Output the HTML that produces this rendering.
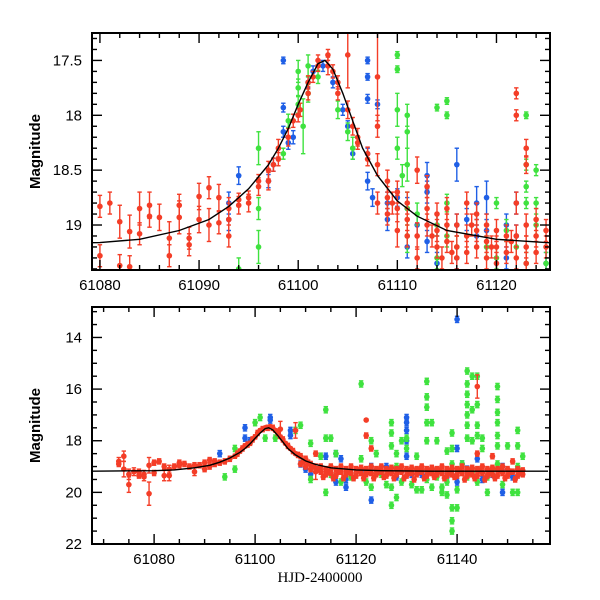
<!DOCTYPE html>
<html><head><meta charset="utf-8"><style>
html,body{margin:0;padding:0;background:#fff;}
svg{display:block;font-family:"Liberation Sans",sans-serif;}
</style></head><body>
<svg id="chart" width="600" height="600" xmlns="http://www.w3.org/2000/svg">
<defs>
<clipPath id="clipTop"><rect x="92" y="33" width="458" height="237"/></clipPath>
<clipPath id="clipBot"><rect x="92" y="307" width="458" height="237"/></clipPath>
</defs>
<g id="top"></g>
<g id="bot"></g>
</svg>
<script>
// ---- Top panel data: [date, mag, err]
const topRed = [[61080,18.83,0.1],[61080,19.28,0.1],[61081,18.8,0.1],[61082,18.97,0.15],[61082,19.37,0.1],[61083,19.06,0.15],[61083,19.38,0.1],[61084,18.85,0.15],[61084,19.08,0.1],[61085,18.82,0.12],[61085,18.92,0.1],[61086,18.93,0.12],[61087,19.12,0.15],[61087,19.28,0.1],[61088,18.93,0.15],[61088,18.82,0.1],[61089,19.12,0.1],[61089,19.18,0.1],[61090,18.95,0.12],[61090,18.74,0.12],[61091,18.66,0.1],[61091,19.0,0.15],[61092,18.75,0.12],[61092,18.98,0.1],[61093,18.95,0.15],[61093,19.1,0.1],[61093,18.85,0.1],[61094,18.82,0.08],[61094,18.77,0.06],[61095,18.8,0.08],[61095,18.75,0.06],[61096,18.65,0.08],[61096,18.6,0.06],[61097,18.5,0.08],[61097,18.6,0.08],[61097.5,18.45,0.06],[61098,18.3,0.08],[61098,18.4,0.06],[61099,18.2,0.08],[61099.5,18.05,0.06],[61100,18.0,0.06],[61100.2,17.95,0.06],[61101,17.7,0.06],[61101,17.8,0.06],[61101.5,17.65,0.05],[61102,17.55,0.05],[61102,17.5,0.05],[61103,17.45,0.05],[61103,17.55,0.08],[61103.5,17.6,0.06],[61104,17.7,0.06],[61104,17.8,0.06],[61105,17.95,0.08],[61105,17.45,0.3],[61105.5,18.1,0.08],[61106,18.2,0.08],[61106,18.25,0.06],[61107,18.35,0.06],[61107,18.4,0.06],[61108,17.65,0.4],[61108,18.1,0.1],[61108,18.45,0.1],[61108,18.8,0.1],[61109,18.6,0.1],[61109,18.75,0.1],[61109,18.9,0.1],[61109.5,18.8,0.1],[61110,18.7,0.1],[61110,18.85,0.12],[61110,19.05,0.15],[61111,18.8,0.1],[61111,18.95,0.1],[61111,19.1,0.1],[61112,18.5,0.12],[61112,19.1,0.12],[61112,19.3,0.1],[61113,18.65,0.1],[61113,18.85,0.1],[61113,19.0,0.1],[61113.5,19.1,0.1],[61114,18.9,0.1],[61114,19.05,0.1],[61114,19.2,0.1],[61114.5,19.3,0.1],[61115,18.85,0.1],[61115,19.0,0.1],[61115,19.15,0.1],[61115.5,19.25,0.1],[61116,19.0,0.1],[61116,19.2,0.1],[61116,19.3,0.1],[61117,18.8,0.1],[61117,19.1,0.1],[61117,19.25,0.1],[61117.5,19.0,0.1],[61118,18.9,0.1],[61118,19.05,0.1],[61118,19.2,0.1],[61119,19.0,0.1],[61119,19.15,0.1],[61119,19.3,0.1],[61119.5,19.2,0.1],[61120,19.05,0.1],[61120,19.2,0.1],[61120,19.35,0.1],[61121,19.1,0.1],[61121,19.25,0.1],[61121.5,19.15,0.1],[61122,17.8,0.05],[61122,18.0,0.05],[61122,18.8,0.1],[61122,19.1,0.1],[61122,19.3,0.1],[61123,18.3,0.08],[61123,18.45,0.08],[61123,19.0,0.1],[61123,19.2,0.1],[61123,19.35,0.1],[61124,18.95,0.1],[61124,19.1,0.1],[61124,19.25,0.1],[61125,19.05,0.1],[61125,19.2,0.1]];
const topBlue = [[61093,18.8,0.1],[61093,18.95,0.1],[61094,18.55,0.08],[61097,18.6,0.06],[61097.5,18.45,0.06],[61098.5,17.5,0.03],[61098.5,17.93,0.04],[61098.5,18.15,0.05],[61099,18.25,0.06],[61099.5,18.2,0.06],[61101,17.7,0.05],[61101.5,17.6,0.05],[61102.5,17.55,0.05],[61103.5,17.7,0.05],[61104.5,17.95,0.05],[61105,18.1,0.05],[61105.5,18.35,0.05],[61107,17.5,0.03],[61107,17.65,0.03],[61107,17.85,0.04],[61107,18.35,0.05],[61107,18.6,0.08],[61107.5,18.75,0.08],[61108,17.9,0.04],[61109,18.8,0.1],[61109,18.95,0.1],[61110,18.75,0.08],[61111,19.2,0.1],[61111,18.85,0.1],[61112,19.0,0.1],[61113,18.55,0.12],[61113,18.7,0.1],[61113,19.15,0.1],[61114,19.0,0.1],[61114,19.35,0.1],[61116,18.45,0.15],[61116,19.0,0.1],[61116,19.3,0.1],[61117,18.95,0.1],[61118,18.8,0.15],[61118,19.1,0.1],[61119,18.75,0.15],[61119,19.05,0.1],[61121,19.0,0.1],[61121,19.3,0.1],[61122,18.8,0.1],[61122,19.1,0.1],[61125,19.35,0.1]];
const topGreen = [[61094,19.4,0.1],[61096,18.3,0.15],[61096,18.85,0.1],[61096,19.2,0.15],[61098.5,18.35,0.05],[61099,18.05,0.06],[61100,17.6,0.1],[61100,17.75,0.08],[61100,17.9,0.08],[61100.5,18.1,0.25],[61101,17.55,0.1],[61101,17.8,0.08],[61102,17.65,0.06],[61104,17.95,0.08],[61105,18.15,0.08],[61105.5,18.3,0.1],[61110,17.45,0.03],[61110,17.58,0.03],[61110,17.95,0.15],[61110,18.3,0.1],[61110.5,18.55,0.1],[61111,18.0,0.1],[61111,18.15,0.15],[61111,18.45,0.15],[61111,18.85,0.15],[61111,19.1,0.15],[61112,18.9,0.1],[61114,19.0,0.1],[61114,19.3,0.1],[61114,17.93,0.03],[61115,17.87,0.03],[61115,18.0,0.03],[61115,18.8,0.08],[61115,19.1,0.1],[61116,19.2,0.1],[61119,19.2,0.1],[61120,18.8,0.05],[61120,19.3,0.1],[61121,19.05,0.1],[61122,19.2,0.1],[61123,18.0,0.03],[61123,18.45,0.05],[61123,18.65,0.05],[61123,18.8,0.05],[61123,19.35,0.1],[61124,18.5,0.05],[61124,18.8,0.05],[61124,19.0,0.1],[61125,19.35,0.1]];
const fitDates = [61067,61073,61080,61084,61088,61091,61093,61095,61097,61098,61099,61100,61101,61102,61102.7,61103.5,61104.5,61105.5,61106.5,61108,61110,61112,61115,61120,61125,61135,61158];
const fitMags = [19.18,19.17,19.16,19.13,19.05,18.95,18.83,18.67,18.45,18.3,18.12,17.9,17.7,17.53,17.5,17.58,17.8,18.05,18.3,18.55,18.78,18.92,19.05,19.13,19.16,19.18,19.18];
const topXTicks = ["61080","61090","61100","61110","61120"];
const topYTicks = ["17.5","18","18.5","19"];
// ---- Bottom panel data
const botRed = [[61073,18.8,0.15],[61073,18.9,0.1],[61074,18.6,0.2],[61074,19.1,0.3],[61075,19.3,0.2],[61075,19.7,0.3],[61076,19.2,0.15],[61077,19.2,0.1],[61077,19.35,0.1],[61078,19.3,0.15],[61078,19.4,0.15],[61079,18.95,0.3],[61079,20.05,0.45],[61080,19.25,0.1],[61080,18.85,0.1],[61081,18.8,0.1],[61082,19.0,0.1],[61082,19.35,0.2],[61083,19.1,0.15],[61083,19.35,0.2],[61084,19.0,0.1],[61085,18.85,0.1],[61085,18.95,0.1],[61086,18.9,0.1],[61087,19.0,0.1],[61088,19.2,0.15],[61088,18.95,0.1],[61089,18.95,0.1],[61090,19.1,0.1],[61090,18.85,0.1],[61091,18.75,0.1],[61091,19.0,0.1],[61092,18.8,0.1],[61092,18.9,0.1],[61093,18.85,0.1],[61094,18.8,0.1],[61095,18.7,0.1],[61096,18.6,0.08],[61097,18.4,0.08],[61098,18.2,0.08],[61099,18.1,0.08],[61100,17.85,0.08],[61101,17.6,0.06],[61102,17.5,0.06],[61103,17.45,0.06],[61104,17.6,0.06],[61105,17.55,0.3],[61105,17.85,0.06],[61106,18.1,0.06],[61107,18.3,0.06],[61108,17.6,0.3],[61108,18.5,0.06],[61109,18.6,0.1],[61109,18.9,0.1],[61110,18.7,0.1],[61110,19.0,0.1],[61111,18.9,0.1],[61111,19.1,0.1],[61112,18.5,0.1],[61112,19.2,0.3],[61113,19.0,0.1],[61113,19.2,0.1],[61114,19.1,0.1],[61114,19.3,0.1],[61115,19.0,0.1],[61115,19.25,0.1],[61116,19.1,0.1],[61116,19.35,0.1],[61117,19.0,0.1],[61117,19.2,0.1],[61118,19.1,0.1],[61118,19.3,0.1],[61119,19.0,0.1],[61119,19.25,0.1],[61120,19.1,0.1],[61120,19.35,0.1],[61121,19.05,0.1],[61121,19.25,0.1],[61122,17.2,0.05],[61122,17.8,0.1],[61122,19.1,0.1],[61122,19.3,0.1],[61123,18.3,0.1],[61123,19.0,0.1],[61123,19.25,0.1],[61124,19.1,0.1],[61124,19.3,0.1],[61125,19.0,0.1],[61125,19.2,0.1],[61126,19.1,0.1],[61126,19.35,0.1],[61127,19.05,0.1],[61127,19.25,0.1],[61128,19.1,0.1],[61128,19.3,0.1],[61129,19.0,0.1],[61129,19.2,0.1],[61130,19.1,0.1],[61130,19.35,0.1],[61131,19.05,0.1],[61131,19.25,0.1],[61132,19.1,0.1],[61132,19.3,0.1],[61133,19.0,0.1],[61133,19.2,0.1],[61134,19.1,0.1],[61134,19.35,0.1],[61135,19.05,0.1],[61135,19.25,0.1],[61136,19.1,0.1],[61136,19.3,0.1],[61137,19.0,0.1],[61137,19.25,0.1],[61138,19.1,0.1],[61138,19.35,0.1],[61139,19.05,0.1],[61139,19.3,0.1],[61140,19.1,0.1],[61140,19.35,0.1],[61141,19.0,0.1],[61141,19.25,0.1],[61142,19.1,0.1],[61142,19.35,0.1],[61143,19.05,0.1],[61143,19.3,0.1],[61144,15.9,0.45],[61144,18.5,0.1],[61144,19.1,0.1],[61144,19.35,0.1],[61145,19.0,0.1],[61145,19.25,0.1],[61146,19.1,0.1],[61146,19.35,0.1],[61147,18.6,0.1],[61147,19.05,0.1],[61147,19.3,0.1],[61148,19.1,0.1],[61148,19.35,0.1],[61149,19.0,0.1],[61149,19.25,0.1],[61150,19.1,0.1],[61150,19.35,0.1],[61151,18.8,0.1],[61151,19.2,0.1],[61152,19.1,0.1],[61152,19.35,0.1],[61153,19.15,0.1],[61153,19.3,0.1]];
const botRedExtra = [[61096.5,18.5],[61097.5,18.3],[61098.5,18.15],[61099.5,17.95],[61100.5,17.7],[61101.5,17.55],[61102.5,17.5],[61103.5,17.5],[61104.5,17.7],[61105.5,17.95],[61106.5,18.2],[61107.5,18.4],[61108.5,18.55],[61109.5,18.8],[61110.5,18.85],[61111.5,19.0],[61112.5,19.1],[61113.5,19.4],[61114.5,19.2],[61115.5,19.45],[61116.5,19.2],[61117.5,19.45],[61118.5,19.2],[61119.5,19.45],[61120.5,19.15],[61121.5,19.45],[61122.5,19.2],[61123.5,19.45],[61124.5,19.15],[61125.5,19.4],[61126.5,19.2],[61127.5,19.45],[61128.5,19.15],[61129.5,19.45],[61130.5,19.2],[61131.5,19.5],[61132.5,19.15],[61133.5,19.45],[61134.5,19.2],[61135.5,19.4],[61136.5,19.15],[61137.5,19.45],[61138.5,19.2],[61139.5,19.4],[61140.5,19.15],[61141.5,19.5],[61142.5,19.2],[61143.5,19.45],[61144.5,19.15],[61145.5,19.5],[61146.5,19.2],[61147.5,19.45],[61148.5,19.15],[61149.5,19.45],[61150.5,19.2],[61151.5,19.5],[61152.5,19.2]];
const botBlue = [[61093,18.5],[61098,17.5],[61098,17.9],[61099,18.0],[61103,17.1],[61103,17.2],[61107,17.6],[61107,17.8],[61109,18.9],[61110,19.1],[61111,19.3],[61114,18.6],[61116,18.5],[61116,19.6],[61117,18.7],[61118,19.5],[61118,19.8],[61121,19.2],[61123,20.3],[61123,19.0],[61126,19.0],[61128,19.4],[61130,17.1],[61130,17.3],[61130,17.6],[61130,18.0],[61130,18.6],[61131,19.3],[61133,19.3],[61135,19.1],[61138,19.4],[61140,13.3],[61140,18.3],[61140,19.6],[61141,18.9],[61142,19.1],[61144,18.7],[61145,19.5],[61147,19.3],[61149,20.0],[61149,19.0],[61151,19.4]];
const botGreen = [[61094,19.4],[61096,18.3],[61096,19.1],[61100,17.3],[61101,17.1],[61102,17.9],[61104,17.9],[61108,17.6],[61109,17.4],[61111,18.1],[61111,19.5],[61113,18.6],[61114,16.8],[61114,17.9],[61114,20.0],[61115,17.9],[61115,19.3],[61116,18.5],[61117,19.6],[61119,19.4],[61121,15.8],[61121,18.7],[61122,19.6],[61123,18.0],[61123,19.8],[61124,18.5],[61125,19.3],[61126,19.7],[61127,17.3],[61127,17.7],[61127,18.2],[61127,19.8],[61127,20.5],[61128,18.5],[61128,19.0],[61128,20.2],[61129,18.0],[61129,19.6],[61130,17.9],[61130,18.3],[61131,19.7],[61132,18.6],[61132,19.9],[61133,19.9],[61134,15.7],[61134,16.3],[61134,16.7],[61134,17.3],[61134,18.0],[61134,19.5],[61135,17.3],[61135,19.8],[61136,18.0],[61136,19.4],[61137,19.8],[61137,20.0],[61138,18.4],[61138,19.6],[61138,20.1],[61139,17.7],[61139,18.3],[61139,18.9],[61139,20.6],[61139,21.1],[61139,21.5],[61140,19.9],[61140,20.6],[61141,18.9],[61142,15.3],[61142,15.8],[61142,16.2],[61142,16.6],[61142,17.0],[61142,17.4],[61142,17.9],[61142,19.4],[61143,15.5],[61143,16.8],[61143,18.0],[61143,19.2],[61144,15.5],[61144,16.6],[61144,17.4],[61144,17.8],[61144,19.6],[61145,17.9],[61145,18.3],[61146,19.4],[61146,20.0],[61147,19.1],[61148,15.9],[61148,16.4],[61148,16.9],[61148,17.3],[61148,17.8],[61148,18.2],[61148,18.9],[61149,19.7],[61150,18.2],[61151,20.0],[61152,17.6],[61152,18.2],[61152,19.0],[61152,20.0],[61153,18.6]];
const botXTicks = ["61080","61100","61120","61140"];
const botYTicks = ["14","16","18","20","22"];

const NS="http://www.w3.org/2000/svg";
const RED="#f43d27", BLUE="#1f5fe6", GREEN="#3fe23f";
function mk(tag,attrs,parent){const e=document.createElementNS(NS,tag);for(const k in attrs)e.setAttribute(k,attrs[k]);parent.appendChild(e);return e;}

function panel(g,cfg){
  const {x0,x1,y0,y1,d0,d1,m0,m1,clip}=cfg;
  const sx=d=>x0+(d-d0)/(d1-d0)*(x1-x0);
  const sy=m=>y0+(m-m0)/(m1-m0)*(y1-y0);
  const plot=mk('g',{'clip-path':'url(#'+clip+')'},g);
  
  
  function series(arr,color,name,defErr){
    const sg=mk('g',{},plot);
    
    
    arr.forEach(p=>{
      const x=sx(p[0]),y=sy(p[1]);const e=p.length>2?p[2]:defErr;
      const ya=sy(p[1]-e),yb=sy(p[1]+e);
      const pt=mk('g',{},sg);
      
      
      mk('line',{x1:x,x2:x,y1:ya,y2:yb,stroke:color,'stroke-width':1.4},pt);
      mk('line',{x1:x-2.2,x2:x+2.2,y1:ya,y2:ya,stroke:color,'stroke-width':1.4},pt);
      mk('line',{x1:x-2.2,x2:x+2.2,y1:yb,y2:yb,stroke:color,'stroke-width':1.4},pt);
      mk('circle',{cx:x,cy:y,r:2.8,fill:color},pt);
    });
  }
  cfg.series.forEach(s=>series(s[0],s[1],s[2],s[3]));
  let dpath='';fitDates.forEach((d,i)=>{dpath+=(i?'L':'M')+sx(d).toFixed(1)+','+sy(fitMags[i]).toFixed(1);});
  const fit=mk('path',{d:dpath,fill:'none',stroke:'#000','stroke-width':1.4},plot);
  
  
  const fr=mk('rect',{x:x0,y:y0,width:x1-x0,height:y1-y0,fill:'none',stroke:'#000','stroke-width':2},g);
  
  
  for(let d=Math.ceil(d0/cfg.minX)*cfg.minX; d<=d1; d+=cfg.minX){
    const x=sx(d);const major=Math.abs(d/cfg.majX-Math.round(d/cfg.majX))<1e-6;const L=major?10:5;
    mk('line',{x1:x,x2:x,y1:y1,y2:y1-L,stroke:'#000','stroke-width':1.4},g);
    mk('line',{x1:x,x2:x,y1:y0,y2:y0+L,stroke:'#000','stroke-width':1.4},g);
  }
  cfg.xt.forEach(t=>{const tx=mk('text',{x:sx(+t),y:y1+20,'text-anchor':'middle','font-size':15},g);tx.textContent=t;
    
    });
  for(let m=Math.ceil(m0/cfg.minY)*cfg.minY; m<=m1+1e-9; m+=cfg.minY){
    const y=sy(m);const major=Math.abs(m/cfg.majY-Math.round(m/cfg.majY))<1e-6;const L=major?10:5;
    mk('line',{x1:x0,x2:x0+L,y1:y,y2:y,stroke:'#000','stroke-width':1.4},g);
    mk('line',{x1:x1,x2:x1-L,y1:y,y2:y,stroke:'#000','stroke-width':1.4},g);
  }
  cfg.yt.forEach(t=>{const tx=mk('text',{x:x0-10,y:sy(+t)+5,'text-anchor':'end','font-size':15},g);tx.textContent=t;
    
    });
  const yl=mk('text',{x:0,y:0,transform:`translate(40,${(y0+y1)/2}) rotate(-90)`,'text-anchor':'middle','font-size':15,'font-weight':'bold'},g);
  yl.textContent='Magnitude';
  
  
}
panel(document.getElementById('top'),{x0:92,x1:550,y0:33,y1:270,d0:61079.2,d1:61125.4,m0:17.25,m1:19.41,clip:'clipTop',
  minX:2,majX:10,minY:0.1,majY:0.5,xt:topXTicks,yt:topYTicks,
  series:[[topBlue,BLUE,'series-blue',0.1],[topGreen,GREEN,'series-green',0.1],[topRed,RED,'series-red',0.1]]});
panel(document.getElementById('bot'),{x0:92,x1:550,y0:307,y1:544,d0:61067.7,d1:61158.4,m0:12.82,m1:22,clip:'clipBot',
  minX:5,majX:20,minY:0.5,majY:2,xt:botXTicks,yt:botYTicks,
  series:[[botBlue,BLUE,'series-blue',0.12],[botGreen,GREEN,'series-green',0.12],[botRedExtra,RED,'series-red-dense',0.1],[botRed,RED,'series-red',0.1]]});
const xl=mk('text',{x:320,y:582,'text-anchor':'middle','font-size':15,'font-family':'Liberation Serif, serif'},document.getElementById('bot'));
xl.textContent='HJD-2400000';


</script>
</body></html>
